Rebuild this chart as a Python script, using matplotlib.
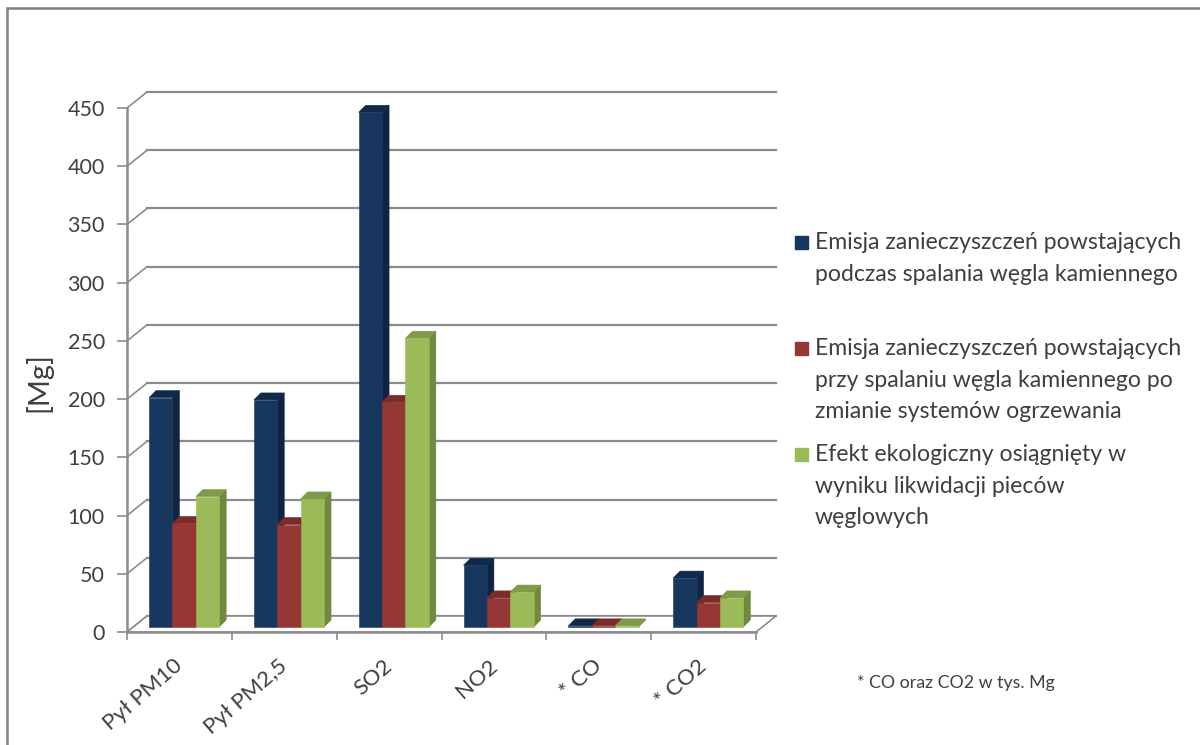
import matplotlib
matplotlib.use("Agg")
import matplotlib.pyplot as plt
from matplotlib.patches import Polygon, Rectangle
from matplotlib.transforms import ScaledTranslation

categories = ["Pył PM10", "Pył PM2,5", "SO2", "NO2", "* CO", "* CO2"]
coal_before = [197, 195, 442, 53, 1, 42]
coal_after = [89, 88, 193, 25, 1, 21]
eco_effect = [112, 110, 248, 30, 1, 25]
y_ticks = [0, 50, 100, 150, 200, 250, 300, 350, 400, 450]

series_labels = [
    "Emisja zanieczyszczeń powstających\npodczas spalania węgla kamiennego",
    "Emisja zanieczyszczeń powstających\nprzy spalaniu węgla kamiennego po\nzmianie systemów ogrzewania",
    "Efekt ekologiczny osiągnięty w\nwyniku likwidacji pieców\nwęglowych",
]
footnote = "* CO oraz CO2 w tys. Mg"

# front, top and side shades for each series
shades = [
    ("#17375e", "#10294a", "#0f2440"),
    ("#953735", "#7a2c2a", "#6e2624"),
    ("#9bbb59", "#7f9a48", "#6f8a3e"),
]

W, H = 1200, 745
TEXT = "#3f3f3f"
GRID = "#8c8c8c"

plt.rcParams["font.family"] = ["Lato", "DejaVu Sans"]
fig = plt.figure(figsize=(W / 100, H / 100), dpi=100, facecolor="white")

# plotting box of the front plane, in pixels
left, right, top, bottom = 127, 756, 108, 632
ax = fig.add_axes([left / W, 1 - bottom / H, (right - left) / W, (bottom - top) / H])
ax.set_xlim(0, len(categories))
ax.set_ylim(0, 450)
ax.patch.set_visible(False)

ux = (right - left) / len(categories)   # pixels per category
uy = (bottom - top) / 450               # pixels per unit of value


def px(dx, dy):
    """Convert a pixel offset to data units (dy counted upward)."""
    return dx / ux, dy / uy


# walls of the pseudo-3D box
wall_dx, wall_dy = px(20, 16)
for v in y_ticks:
    ax.plot([0, wall_dx], [v, v + wall_dy], color=GRID, lw=1.2, clip_on=False, zorder=1)
    ax.plot([wall_dx, len(categories) + wall_dx], [v + wall_dy] * 2, color=GRID, lw=1.6,
            clip_on=False, zorder=1)
floor = Polygon([(0, 0), (wall_dx, wall_dy), (len(categories) + wall_dx, wall_dy),
                 (len(categories), 0)], closed=True, facecolor="white",
                edgecolor=GRID, lw=1.2, clip_on=False, zorder=1)
ax.add_patch(floor)

# bars, with their top and side faces derived from each value
bar_w = 23.4 / ux
start = 22 / ux
off_dx, off_dy = px(0, 5)
depth_dx, depth_dy = px(7, 7)
for s, values in enumerate([coal_before, coal_after, eco_effect]):
    front, top_c, side_c = shades[s]
    for i, v in enumerate(values):
        x0 = i + start + s * bar_w
        x1 = x0 + bar_w
        y0 = off_dy
        y1 = off_dy + v
        z = 3 + s
        ax.add_patch(Polygon([(x1, y0), (x1 + depth_dx, y0 + depth_dy),
                              (x1 + depth_dx, y1 + depth_dy), (x1, y1)],
                             closed=True, facecolor=side_c, edgecolor=side_c, lw=0.4,
                             clip_on=False, zorder=z))
        ax.add_patch(Polygon([(x0, y1), (x0 + depth_dx, y1 + depth_dy),
                              (x1 + depth_dx, y1 + depth_dy), (x1, y1)],
                             closed=True, facecolor=top_c, edgecolor=top_c, lw=0.4,
                             clip_on=False, zorder=z))
        ax.bar(x0, v, width=bar_w, bottom=y0, align="edge", color=front,
               edgecolor=front, linewidth=0.4, clip_on=False, zorder=z + 0.5)

# axes
for name in ("top", "right"):
    ax.spines[name].set_visible(False)
for name in ("left", "bottom"):
    ax.spines[name].set_color(GRID)
    ax.spines[name].set_linewidth(1.8)
    ax.spines[name].set_zorder(2)
ax.set_yticks(y_ticks)
ax.tick_params(axis="y", length=7, width=1.2, color=GRID, labelsize=15.5,
               labelcolor=TEXT, pad=9)
ax.set_xticks(range(len(categories) + 1))
ax.set_xticklabels([])
ax.tick_params(axis="x", which="major", length=6, width=1.2, color=GRID, direction="out")
ax.set_xticks([i + 0.5 for i in range(len(categories))], minor=True)
ax.set_xticklabels(categories, minor=True, rotation=41, ha="right", va="top",
                   rotation_mode="anchor", fontsize=16, color=TEXT)
ax.tick_params(axis="x", which="minor", length=0, pad=17)
nudge = ScaledTranslation(-6 / 100, 0, fig.dpi_scale_trans)
for lab in ax.get_xticklabels(minor=True):
    lab.set_transform(lab.get_transform() + nudge)

fig.text(38 / W, 1 - 382 / H, "[Mg]", fontsize=21, color=TEXT, rotation=90,
         ha="center", va="center")

# legend written out by hand so each entry can sit at its own height
legend_rows = [242, 348, 454]
for y, label, shade in zip(legend_rows, series_labels, shades):
    fig.add_artist(Rectangle((795 / W, 1 - (y + 6.5) / H), 13 / W, 13 / H, color=shade[0],
                             transform=fig.transFigure))
    fig.text(815 / W, 1 - (y - 10) / H, label, fontsize=16.6, color=TEXT, va="top",
             linespacing=1.62)

fig.text(857 / W, 1 - 683 / H, footnote, fontsize=12.8, color=TEXT, va="center")

# outer frame of the chart area
fig.add_artist(Rectangle((7 / W, -0.02), (W + 20) / W, 1 - 8 / H + 0.02, fill=False,
                         edgecolor="#808080", lw=1.8, transform=fig.transFigure))

fig.savefig("out.png", dpi=100)
